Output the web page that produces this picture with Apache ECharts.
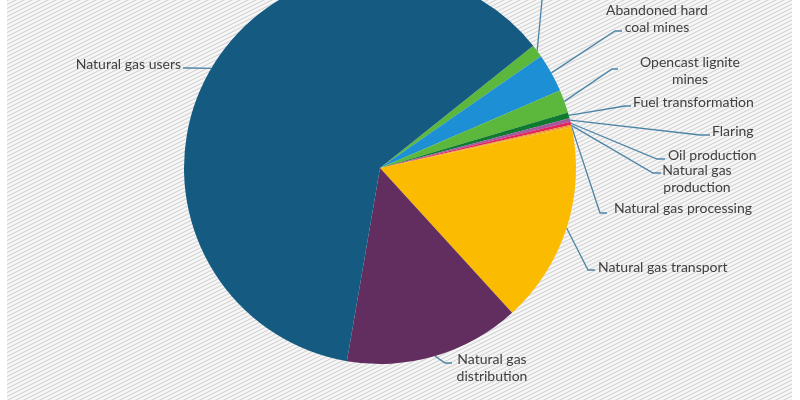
<!DOCTYPE html>
<html>
<head>
<meta charset="utf-8">
<script src="https://cdn.jsdelivr.net/npm/echarts@6/dist/echarts.min.js"></script>
<style>
  html, body { margin: 0; padding: 0; background: #fff; }
  #chart { width: 800px; height: 400px; }
</style>
</head>
<body>
<div id="chart"></div>
<script>
// sources of methane emissions, clockwise from the top
const categories = [
  'Active hard coal mines',
  'Abandoned hard\ncoal mines',
  'Opencast lignite\nmines',
  'Fuel transformation',
  'Flaring',
  'Oil production',
  'Natural gas\nproduction',
  'Natural gas processing',
  'Natural gas transport',
  'Natural gas\ndistribution',
  'Natural gas users'
];
const shares = [1.06, 3.2, 1.9, 0.5, 0.28, 0.26, 0.1, 0.1, 16.6, 14.5, 61.7];
const colors = [
  '#5cb83c', '#1d8fd4', '#5cb83c', '#0e7a30', '#a3589f', '#e2245c',
  '#f08a24', '#f6a81c', '#fbbb00', '#622d5f', '#155b81'
];

// label anchor, text align, and leader elbow/end for each slice
const labelSpots = [
  { x: 543, y: -40, align: 'center', elbow: [543, -10], end: [543, -20] },
  { x: 657, y: 19, align: 'center', elbow: [615, 31], end: [622, 31] },
  { x: 690, y: 71, align: 'center', elbow: [612, 69], end: [618, 69] },
  { x: 633, y: 102, align: 'left', elbow: [625, 106], end: [631, 106] },
  { x: 712, y: 131, align: 'left', elbow: [700, 135], end: [710, 135] },
  { x: 668, y: 155, align: 'left', elbow: [657, 159], end: [665, 159] },
  { x: 697, y: 179, align: 'center', elbow: [653, 173], end: [661, 173] },
  { x: 614, y: 208, align: 'left', elbow: [600, 213], end: [607, 213] },
  { x: 598, y: 267, align: 'left', elbow: [588, 270], end: [595, 270] },
  { x: 492, y: 368, align: 'center', elbow: [445, 363], end: [452, 363] },
  { x: 181, y: 64, align: 'right', elbow: [190, 68], end: [183, 68] }
];

// diagonal hatch for the panel
const hatch = document.createElement('canvas');
hatch.width = 8;
hatch.height = 4;
const hc = hatch.getContext('2d');
hc.fillStyle = '#f7f7f7';
hc.fillRect(0, 0, 8, 4);
hc.strokeStyle = '#d6d6d6';
hc.lineWidth = 1.2;
for (let k = -1; k <= 1; k++) {
  hc.beginPath();
  hc.moveTo(0, 4 + 4 * k);
  hc.lineTo(8, 4 * k);
  hc.stroke();
}

const chart = echarts.init(document.getElementById('chart'));

chart.setOption({
  backgroundColor: '#ffffff',
  animation: false,
  graphic: [{
    type: 'rect',
    z: -10,
    silent: true,
    shape: { x: 7, y: 0, width: 785, height: 400 },
    style: { fill: { image: hatch, repeat: 'repeat' } }
  }],
  series: [{
    type: 'pie',
    center: [380, 168],
    radius: 196,
    startAngle: 38.6,
    clockwise: true,
    avoidLabelOverlap: false,
    itemStyle: { borderWidth: 0 },
    label: {
      show: true,
      position: 'outside',
      color: '#404040',
      fontFamily: 'Lato',
      fontSize: 14,
      lineHeight: 17
    },
    labelLine: {
      show: true,
      smooth: false,
      lineStyle: { color: '#4d84a6', width: 1.3 }
    },
    labelLayout: (params) => {
      const s = labelSpots[params.dataIndex];
      return {
        x: s.x,
        y: s.y,
        align: s.align,
        verticalAlign: 'middle',
        labelLinePoints: [params.labelLinePoints[0], s.elbow, s.end]
      };
    },
    data: categories.map((name, i) => ({
      name: name,
      value: shares[i],
      itemStyle: { color: colors[i] }
    }))
  }]
});
</script>
</body>
</html>
